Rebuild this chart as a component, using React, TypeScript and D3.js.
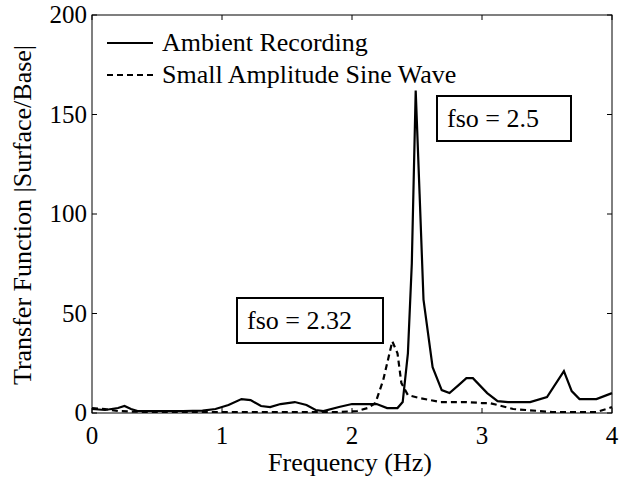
import React from "react";
import * as d3 from "d3";

// DATA
//-------------------------------------------------------//
const ambientFreq = [0, 0.1, 0.2, 0.25, 0.3, 0.35, 0.5, 0.7, 0.85, 0.95, 1.05, 1.15, 1.22, 1.3, 1.37, 1.45, 1.56, 1.65, 1.72, 1.78, 1.9, 2.0, 2.19, 2.27, 2.35, 2.39, 2.43, 2.46, 2.49, 2.52, 2.55, 2.62, 2.69, 2.75, 2.82, 2.88, 2.93, 3.04, 3.12, 3.2, 3.37, 3.5, 3.63, 3.69, 3.75, 3.88, 4.0];
const ambientAmp = [2, 1.5, 2.5, 3.5, 2, 1, 1, 1, 1.2, 2, 4, 7, 6.5, 3.5, 3, 4.5, 5.5, 4, 1.5, 1, 3, 4.5, 4.5, 2.5, 2.5, 5.5, 30, 75, 162, 110, 57, 23, 11.5, 10, 14, 17.5, 17.5, 10, 6, 5.5, 5.5, 8, 21, 11, 7, 7, 10];

const sineFreq = [0, 0.1, 0.2, 0.4, 0.8, 1.2, 1.6, 1.9, 2.04, 2.12, 2.18, 2.24, 2.31, 2.35, 2.38, 2.43, 2.52, 2.68, 2.88, 3.0, 3.06, 3.24, 3.54, 3.88, 3.98, 4.0];
const sineAmp = [2.5, 2, 1, 0.5, 0.5, 0.5, 0.5, 0.5, 1, 2.5, 5, 16.5, 36, 30, 15, 9, 7.5, 5.5, 5.5, 5, 5, 2, 0.5, 0.5, 2.5, 3];

const xTicks = [0, 1, 2, 3, 4];
const yTicks = [0, 50, 100, 150, 200];

const seriesNames = ["Ambient Recording", "Small Amplitude Sine Wave"];
const notes = [
  { label: "fso = 2.32", f: 2.32 },
  { label: "fso = 2.5", f: 2.5 },
];

//  MAIN
//-------------------------------------------------------//
export default function App() {
  const width = 621, height = 480;
  const left = 92, right = 612, top = 15, bottom = 413;
  const font = "'Liberation Serif', 'Times New Roman', serif";

  const x = d3.scaleLinear([0, 4], [left, right]);
  const y = d3.scaleLinear([0, 200], [bottom, top]);
  const line = d3.line<[number, number]>(d => x(d[0]), d => y(d[1]));

  const ambient = ambientFreq.map((f, i) => [f, ambientAmp[i]] as [number, number]);
  const sine = sineFreq.map((f, i) => [f, sineAmp[i]] as [number, number]);

  // annotation boxes, placed in pixel space
  const boxes = [
    { x0: 237, y0: 298, w: 146, h: 45 },
    { x0: 437, y0: 96, w: 134, h: 45 },
  ];

  return (
    <svg width={width} height={height} style={{ position: "absolute", left: 0, top: 0, background: "#fff", fontFamily: font }}>
      <rect x={0} y={0} width={width} height={height} fill="#fff" />

      {/* curves */}
      <path d={line(sine) ?? ""} fill="none" stroke="#000" strokeWidth={2.2} strokeDasharray="6,4" />
      <path d={line(ambient) ?? ""} fill="none" stroke="#000" strokeWidth={2.2} strokeLinejoin="miter" />

      {/* frame and ticks */}
      <rect x={left} y={top} width={right - left} height={bottom - top} fill="none" stroke="#000" strokeWidth={1} />
      {xTicks.map(t => (
        <g key={"x" + t}>
          <line x1={x(t)} x2={x(t)} y1={bottom} y2={bottom - 5} stroke="#000" />
          <line x1={x(t)} x2={x(t)} y1={top} y2={top + 5} stroke="#000" />
          <text x={x(t)} y={bottom + 31} textAnchor="middle" fontSize={25}>{t}</text>
        </g>
      ))}
      {yTicks.map(t => (
        <g key={"y" + t}>
          <line x1={left} x2={left + 5} y1={y(t)} y2={y(t)} stroke="#000" />
          <line x1={right} x2={right - 5} y1={y(t)} y2={y(t)} stroke="#000" />
          <text x={left - 5} y={y(t) + 8} textAnchor="end" fontSize={25}>{t}</text>
        </g>
      ))}

      {/* axis labels */}
      <text x={350} y={471} textAnchor="middle" fontSize={26}>Frequency (Hz)</text>
      <text transform={`translate(31,215) rotate(-90)`} textAnchor="middle" fontSize={26}>
        Transfer Function |Surface/Base|
      </text>

      {/* legend */}
      {seriesNames.map((name, i) => (
        <g key={name} transform={`translate(0,${43 + i * 32})`}>
          <line x1={107} x2={153} y1={0} y2={0} stroke="#000" strokeWidth={2.2} strokeDasharray={i ? "6,4" : undefined} />
          <text x={162} y={8} fontSize={26}>{name}</text>
        </g>
      ))}

      {/* annotations */}
      {notes.map((n, i) => (
        <g key={n.label}>
          <rect x={boxes[i].x0} y={boxes[i].y0} width={boxes[i].w} height={boxes[i].h} fill="#fff" stroke="#000" strokeWidth={2} />
          <text x={boxes[i].x0 + 10} y={boxes[i].y0 + 31} fontSize={26}>{n.label}</text>
        </g>
      ))}
    </svg>
  );
}
